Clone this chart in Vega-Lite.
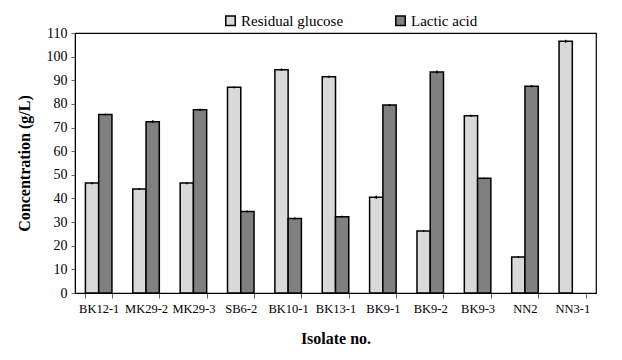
{
  "$schema": "https://vega.github.io/schema/vega-lite/v6.json",
  "width": 521,
  "height": 260,
  "autosize": {"type": "none"},
  "padding": {"left": 75, "top": 33, "right": 26, "bottom": 67},
  "background": "white",
  "config": {
    "font": "Liberation Serif",
    "view": {"stroke": "black", "strokeWidth": 1.2},
    "axis": {"grid": false, "domainColor": "black", "tickColor": "#666", "labelColor": "black", "titleColor": "black", "labelFont": "Liberation Serif", "titleFont": "Liberation Serif"}
  },
  "data": {
    "values": [
      {"isolate": "BK12-1", "series": "Residual glucose", "value": 46.5, "err": 0.5},
      {"isolate": "BK12-1", "series": "Lactic acid", "value": 75.5, "err": 0.4},
      {"isolate": "MK29-2", "series": "Residual glucose", "value": 44, "err": 0.4},
      {"isolate": "MK29-2", "series": "Lactic acid", "value": 72.5, "err": 0.6},
      {"isolate": "MK29-3", "series": "Residual glucose", "value": 46.5, "err": 0.5},
      {"isolate": "MK29-3", "series": "Lactic acid", "value": 77.5, "err": 0.4},
      {"isolate": "SB6-2", "series": "Residual glucose", "value": 87, "err": 0.4},
      {"isolate": "SB6-2", "series": "Lactic acid", "value": 34.5, "err": 0.4},
      {"isolate": "BK10-1", "series": "Residual glucose", "value": 94.5, "err": 0.5},
      {"isolate": "BK10-1", "series": "Lactic acid", "value": 31.5, "err": 0.4},
      {"isolate": "BK13-1", "series": "Residual glucose", "value": 91.5, "err": 0.4},
      {"isolate": "BK13-1", "series": "Lactic acid", "value": 32.3, "err": 0.4},
      {"isolate": "BK9-1", "series": "Residual glucose", "value": 40.5, "err": 0.6},
      {"isolate": "BK9-1", "series": "Lactic acid", "value": 79.5, "err": 0.4},
      {"isolate": "BK9-2", "series": "Residual glucose", "value": 26.2, "err": 0.3},
      {"isolate": "BK9-2", "series": "Lactic acid", "value": 93.5, "err": 0.6},
      {"isolate": "BK9-3", "series": "Residual glucose", "value": 75, "err": 0.4},
      {"isolate": "BK9-3", "series": "Lactic acid", "value": 48.5, "err": 0.4},
      {"isolate": "NN2", "series": "Residual glucose", "value": 15.2, "err": 0.4},
      {"isolate": "NN2", "series": "Lactic acid", "value": 87.5, "err": 0.5},
      {"isolate": "NN3-1", "series": "Residual glucose", "value": 106.5, "err": 0.6},
      {"isolate": "NN3-1", "series": "Lactic acid", "value": 0, "err": 0}
    ]
  },
  "encoding": {
    "x": {
      "field": "isolate", "type": "nominal", "sort": null,
      "scale": {"paddingInner": 0.44, "paddingOuter": 0.22},
      "axis": {"title": "Isolate no.", "labelAngle": 0, "labelFontSize": 12.5, "titleFontSize": 16, "titleFontWeight": "bold", "titlePadding": 16, "tickBand": "extent", "tickSize": 5, "labelPadding": 4}
    },
    "xOffset": {"field": "series", "type": "nominal", "sort": ["Residual glucose", "Lactic acid"]}
  },
  "layer": [
    {
      "transform": [{"filter": "datum.value > 0"}],
      "mark": {"type": "bar", "stroke": "black", "strokeWidth": 1.5},
      "encoding": {
        "y": {
          "field": "value", "type": "quantitative",
          "scale": {"domain": [0, 110], "nice": false},
          "axis": {"title": "Concentration (g/L)", "values": [0,10,20,30,40,50,60,70,80,90,100,110], "labelOverlap": false, "labelFontSize": 14, "titleFontSize": 16, "titleFontWeight": "bold", "titlePadding": 14, "tickSize": 4, "labelPadding": 4}
        },
        "fill": {
          "field": "series", "type": "nominal",
          "scale": {"domain": ["Residual glucose", "Lactic acid"], "range": ["#d9d9d9", "#808080"]},
          "legend": {"title": null, "orient": "none", "legendX": 148, "legendY": -20, "direction": "horizontal", "symbolType": "square", "symbolStrokeColor": "black", "symbolStrokeWidth": 1.5, "symbolSize": 90, "labelFontSize": 15, "labelFont": "Liberation Serif", "columnPadding": 48, "labelOffset": 3}
        }
      }
    },
    {
      "transform": [{"filter": "datum.err > 0"}, {"calculate": "datum.value - datum.err", "as": "lo"}, {"calculate": "datum.value + datum.err", "as": "hi"}],
      "mark": {"type": "rule", "color": "black", "strokeWidth": 1.5},
      "encoding": {
        "y": {"field": "lo", "type": "quantitative", "axis": {"title": "Concentration (g/L)", "values": [0,10,20,30,40,50,60,70,80,90,100,110], "labelOverlap": false, "labelFontSize": 14, "titleFontSize": 16, "titleFontWeight": "bold", "titlePadding": 14, "tickSize": 4, "labelPadding": 4}},
        "y2": {"field": "hi"}
      }
    }
  ]
}
